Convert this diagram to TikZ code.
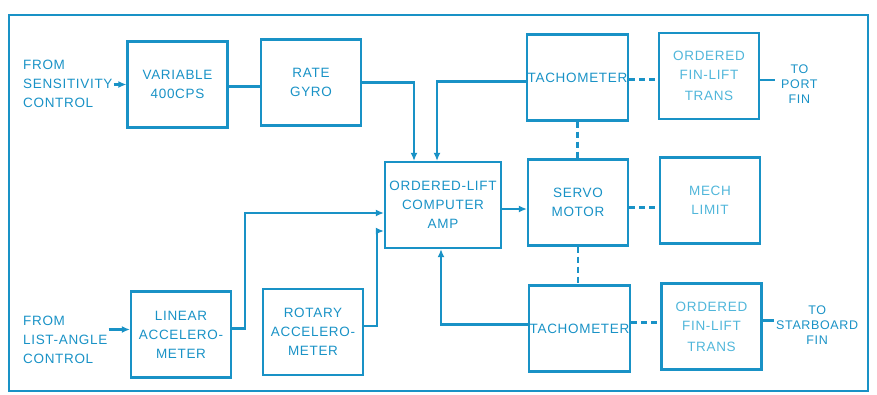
\documentclass[tikz,border=0pt]{standalone}
\usepackage{fontspec}
\setmainfont[LetterSpace=5]{Liberation Sans}
\usetikzlibrary{arrows.meta,positioning}
\definecolor{inkblue}{RGB}{25,146,198}
\definecolor{paleblue}{RGB}{80,182,218}

\begin{document}
\begin{tikzpicture}[
		x=1pt,y=-1pt,
		font=\fontsize{13.5}{19}\selectfont,
		box/.style={draw=inkblue,line width=2.2pt,minimum width=100pt,minimum height=86pt,inner xsep=1pt,align=center,text=inkblue},
		pale/.style={box,text=paleblue},
		lbl/.style={align=left,text=inkblue,inner sep=1pt},
		link/.style={draw=inkblue,line width=2.2pt},
		arrow/.style={link,-{Latex[length=8pt,width=7pt]}},
		shaft/.style={link,dash pattern=on 6pt off 4pt}
		]
		\useasboundingbox (0,0) rectangle (877,394);
		\draw[link] (9,15) rectangle (868,391);
		% upper chain
		\node[box] (var) at (177.5,84.5) {VARIABLE\\400CPS};
		\node[box] (gyro) at (311,82.5) {RATE\\GYRO};
		\node[box,minimum width=116pt] (amp) at (443,205) {ORDERED-LIFT\\COMPUTER\\AMP};
		\node[box] (tachT) at (577.5,77.5) {TACHOMETER};
		\node[pale] (finT) at (709,76) {ORDERED\\FIN-LIFT\\[2pt]TRANS};
		\node[box] (servo) at (578,202.5) {SERVO\\MOTOR};
		\node[pale] (limit) at (710,200.5) {MECH\\LIMIT};
		\node[box] (tachB) at (579.5,328.5) {TACHOMETER};
		\node[pale] (finB) at (711.5,326.5) {ORDERED\\FIN-LIFT\\[2pt]TRANS};
		% lower chain
		\node[box] (lin) at (181,334.5) {LINEAR\\ACCELERO-\\METER};
		\node[box] (rot) at (313,332) {ROTARY\\ACCELERO-\\METER};
		% outside labels
		\node[lbl,anchor=west] (sens) at (22,84) {FROM\\SENSITIVITY\\CONTROL};
		\node[lbl,anchor=west] (listang) at (22,340) {FROM\\LIST-ANGLE\\CONTROL};
		\node[lbl,align=center,anchor=west,font=\fontsize{12.5}{15}\selectfont] (port) at (780,84) {TO\\PORT\\FIN};
		\node[lbl,align=center,anchor=west,font=\fontsize{12.5}{15}\selectfont] (stbd) at (775,325) {TO\\STARBOARD\\FIN};
		\coordinate (linin) at ([yshift=5pt]lin.west);
		% signal lines
		\draw[arrow] (sens.east |- var.west) -- (var.west);
		\draw[arrow] (listang.east |- linin) -- (linin);
		\draw[link] ([yshift=-2pt]var.east) -- ([yshift=-2pt]var.east -| gyro.west);
		\draw[arrow] (gyro.east) -| ([xshift=-29pt]amp.north);
		\draw[arrow] ([yshift=-4pt]tachT.west) -| ([xshift=-6pt]amp.north);
		\draw[arrow] ([yshift=6pt]lin.east) -- ++(13,0) |- ([yshift=-8pt]amp.west);
		\draw[arrow] ([yshift=6pt]rot.east) -- ++(13,0) |- ([yshift=-26pt]amp.west);
		\draw[arrow] ([yshift=-4pt]amp.east) -- ([yshift=-4pt]amp.east -| servo.west);
		\draw[arrow] ([yshift=4pt]tachB.west) -| ([xshift=-2pt]amp.south);
		\draw[link] ([yshift=-4pt]finT.east) -- ([yshift=-4pt,xshift=-5pt]finT.east -| port.west);
		\draw[link] ([yshift=6pt]finB.east) -- ([yshift=6pt,xshift=-1pt]finB.east -| stbd.west);
		% mechanical links
		\draw[shaft] ([yshift=-2pt]tachT.east) -- ([yshift=-2pt]tachT.east -| finT.west);
		\draw[shaft] (tachT.south) -- (tachT.south |- servo.north);
		\draw[shaft] ([yshift=-5pt]servo.east) -- ([yshift=-5pt]servo.east -| limit.west);
		\draw[shaft] (servo.south) -- (servo.south |- tachB.north);
		\draw[shaft] ([yshift=6pt]tachB.east) -- ([yshift=6pt]tachB.east -| finB.west);
	\end{tikzpicture}
\end{document}
